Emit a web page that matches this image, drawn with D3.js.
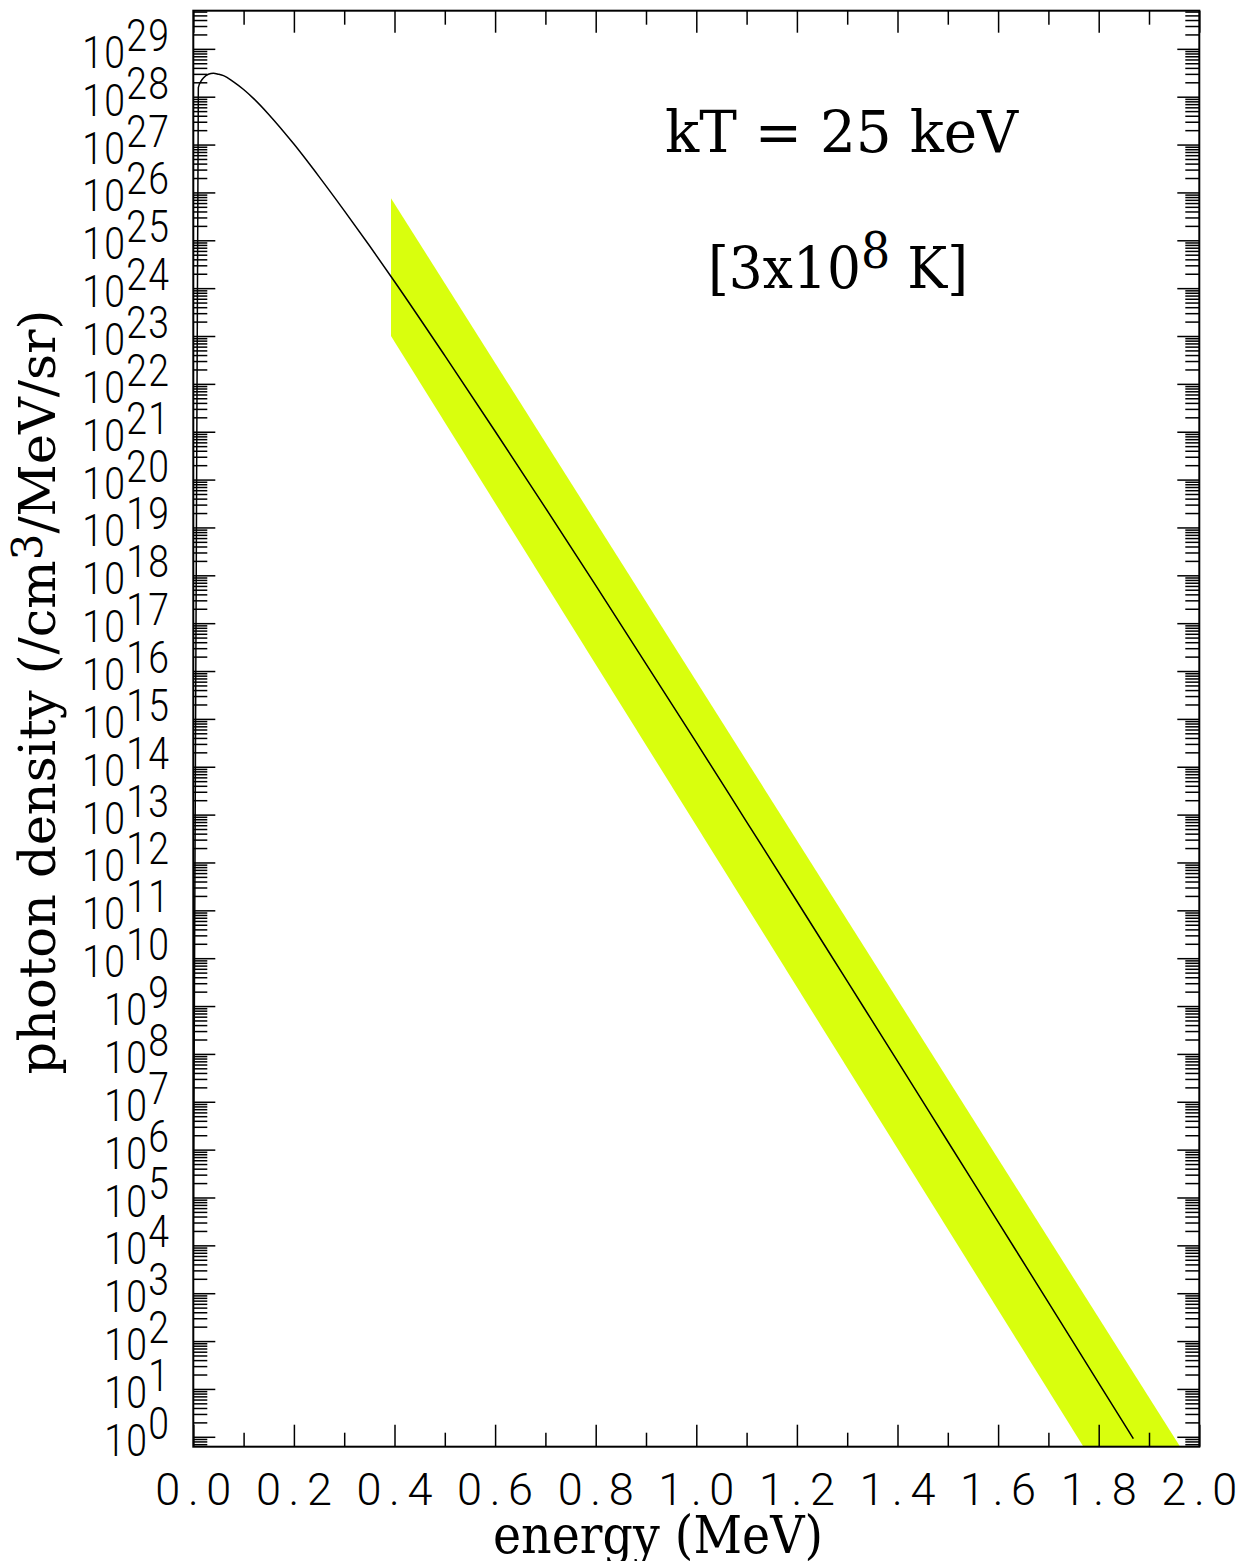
<!DOCTYPE html>
<html>
<head>
<meta charset="utf-8">
<script src="https://cdn.jsdelivr.net/npm/d3@7"></script>
<style>
  html, body { margin: 0; padding: 0; background: #fff; }
  svg { display: block; }
</style>
</head>
<body>
<svg id="chart" width="1238" height="1561"></svg>
<script>
// Thermal photon spectrum, kT = 25 keV: energy (MeV) vs log10 of photon density
const energyMeV = [0, 0.01, 0.015, 0.02, 0.03, 0.04, 0.05, 0.06, 0.08, 0.10, 0.12, 0.15,
  0.2, 0.25, 0.3, 0.35, 0.4, 0.5, 0.6, 0.7, 0.8, 0.9, 1.0, 1.1, 1.2, 1.3, 1.4, 1.5,
  1.6, 1.7, 1.8, 1.869];
const log10Density = [3.8, 28.19, 28.32, 28.39, 28.47, 28.49, 28.47, 28.44, 28.31, 28.15, 27.96, 27.63,
  27.01, 26.33, 25.62, 24.89, 24.14, 22.59, 21.01, 19.41, 17.79, 16.15, 14.51, 12.85, 11.19, 9.52, 7.85, 6.17,
  4.49, 2.81, 1.12, -0.04];

// Shaded band: edges at two energies (log10 density)
const bandEnergy = [0.393, 2.0];
const bandUpperLog = [25.88, -0.84];
const bandLowerLog = [23.0, -4.09];

// Axis extents and ticks
const xDomain = [0, 2];
const xMajorTicks = [0, 0.2, 0.4, 0.6, 0.8, 1.0, 1.2, 1.4, 1.6, 1.8, 2.0];
const xMinorTicks = [0.1, 0.3, 0.5, 0.7, 0.9, 1.1, 1.3, 1.5, 1.7, 1.9];
const yExpRange = [-0.207, 29.797];
const yDecadeExps = d3.range(0, 30);

const annotationLine1 = "kT = 25 keV";
const xTitle = "energy (MeV)";

const svg = d3.select("#chart");
const L = 193.3, R = 1199.3, T = 10.7, B = 1446.7;

const x = d3.scaleLinear().domain(xDomain).range([L, R]);
const y = d3.scaleLog().domain([10 ** yExpRange[0], 10 ** yExpRange[1]]).range([B, T]);

// minor log ticks 2..9 per decade inside the domain
const yMinorTicks = [];
for (let e = -1; e <= 30; e++) {
  for (let m = 2; m <= 9; m++) {
    const v = m * 10 ** e;
    if (v >= y.domain()[0] && v <= y.domain()[1]) yMinorTicks.push(v);
  }
}
const yMajorTicks = yDecadeExps.map(e => 10 ** e);

svg.append("defs").append("clipPath").attr("id", "plotClip")
  .append("rect").attr("x", L).attr("y", T).attr("width", R - L).attr("height", B - T);

const plot = svg.append("g").attr("clip-path", "url(#plotClip)");

// band
const bandData = bandEnergy.map((e, i) => ({ e, hi: bandUpperLog[i], lo: bandLowerLog[i] }));
plot.append("path")
  .datum(bandData)
  .attr("fill", "#d9ff0d")
  .attr("d", d3.area()
    .x(d => x(d.e))
    .y0(d => y(10 ** d.lo))
    .y1(d => y(10 ** d.hi)));

// spectrum curve
const curveData = energyMeV.map((e, i) => ({ e, v: log10Density[i] }));
plot.append("path")
  .datum(curveData)
  .attr("fill", "none")
  .attr("stroke", "#000")
  .attr("stroke-width", 1.5)
  .attr("d", d3.line()
    .x(d => x(d.e))
    .y(d => y(10 ** d.v))
    .curve(d3.curveMonotoneX));

// ticks on all four sides, pointing inward
function tickAxis(gen, transform, values, size) {
  const g = svg.append("g").attr("transform", transform)
    .call(gen.tickValues(values).tickSize(size).tickFormat(""));
  g.select(".domain").remove();
  g.selectAll(".tick line").attr("stroke", "#000").attr("stroke-width", 1.5);
}
tickAxis(d3.axisTop(x), `translate(0,${B})`, xMajorTicks, 22);
tickAxis(d3.axisTop(x), `translate(0,${B})`, xMinorTicks, 14);
tickAxis(d3.axisBottom(x), `translate(0,${T})`, xMajorTicks, 22);
tickAxis(d3.axisBottom(x), `translate(0,${T})`, xMinorTicks, 14);
tickAxis(d3.axisRight(y), `translate(${L},0)`, yMajorTicks, 22);
tickAxis(d3.axisRight(y), `translate(${L},0)`, yMinorTicks, 14);
tickAxis(d3.axisLeft(y), `translate(${R},0)`, yMajorTicks, 22);
tickAxis(d3.axisLeft(y), `translate(${R},0)`, yMinorTicks, 14);

// frame
svg.append("rect")
  .attr("x", L).attr("y", T).attr("width", R - L).attr("height", B - T)
  .attr("fill", "none").attr("stroke", "#000").attr("stroke-width", 2);

// tick labels: light sans, every character on a fixed-width cell
const tickFont = "Roboto, 'DejaVu Sans', sans-serif";
function cellText(textSel, chars, firstCenter, advance, baseline) {
  chars.forEach((c, i) => {
    textSel.append("tspan")
      .attr("x", firstCenter + i * advance)
      .attr("y", baseline)
      .text(c);
  });
}

// x tick labels
const fmt = d3.format(".1f");
const xAdv = 25.5;
svg.append("g").selectAll("text")
  .data(xMajorTicks).join("text")
  .attr("text-anchor", "middle")
  .attr("font-family", tickFont)
  .attr("font-weight", 300)
  .attr("font-size", 45)
  .attr("fill", "#000")
  .each(function (d) {
    const s = fmt(d).split("");
    cellText(d3.select(this), s, x(d) - xAdv * (s.length - 1) / 2, xAdv, 1505);
  });

// y tick labels 10^n, right-aligned
const yAdv = 26.5;
svg.append("g").selectAll("g")
  .data(yDecadeExps).join("g")
  .attr("transform", d => `translate(169.5,${y(10 ** d)}) scale(0.83,1)`)
  .each(function (d) {
    const expChars = String(d).split("");
    const all = ["1", "0"].concat(expChars);
    const t = d3.select(this).append("text")
      .attr("text-anchor", "middle")
      .attr("font-family", tickFont)
      .attr("font-weight", 300)
      .attr("font-size", 45)
      .attr("fill", "#000");
    const first = -yAdv / 2 - yAdv * (all.length - 1);
    all.forEach((c, i) => {
      t.append("tspan")
        .attr("x", first + i * yAdv)
        .attr("y", i < 2 ? 19 : 2)
        .text(c);
    });
  });

// axis titles
const serif = "'DejaVu Serif', serif";
svg.append("text")
  .attr("x", 493).attr("y", 1553)
  .attr("font-family", serif).attr("font-size", 52)
  .attr("textLength", 330).attr("lengthAdjust", "spacingAndGlyphs")
  .attr("fill", "#000")
  .text(xTitle);

const yTitle = svg.append("text")
  .attr("transform", "translate(55,692) rotate(-90)")
  .attr("text-anchor", "middle")
  .attr("font-family", serif).attr("font-size", 51)
  .attr("fill", "#000");
yTitle.append("tspan").text("photon density (/cm");
yTitle.append("tspan").attr("dy", -13).attr("font-size", 42).text("3");
yTitle.append("tspan").attr("dy", 13).text("/MeV/sr)");

// annotations
svg.append("text")
  .attr("x", 665).attr("y", 152)
  .attr("font-family", serif).attr("font-size", 57)
  .attr("textLength", 353).attr("lengthAdjust", "spacingAndGlyphs")
  .attr("fill", "#000")
  .text(annotationLine1);

const ann2 = svg.append("text")
  .attr("x", 708).attr("y", 288)
  .attr("font-family", serif).attr("font-size", 58)
  .attr("textLength", 260).attr("lengthAdjust", "spacingAndGlyphs")
  .attr("fill", "#000");
ann2.append("tspan").text("[3x10");
ann2.append("tspan").attr("dy", -20).attr("font-size", 50).text("8");
ann2.append("tspan").attr("dy", 20).text(" K]");
</script>
</body>
</html>
